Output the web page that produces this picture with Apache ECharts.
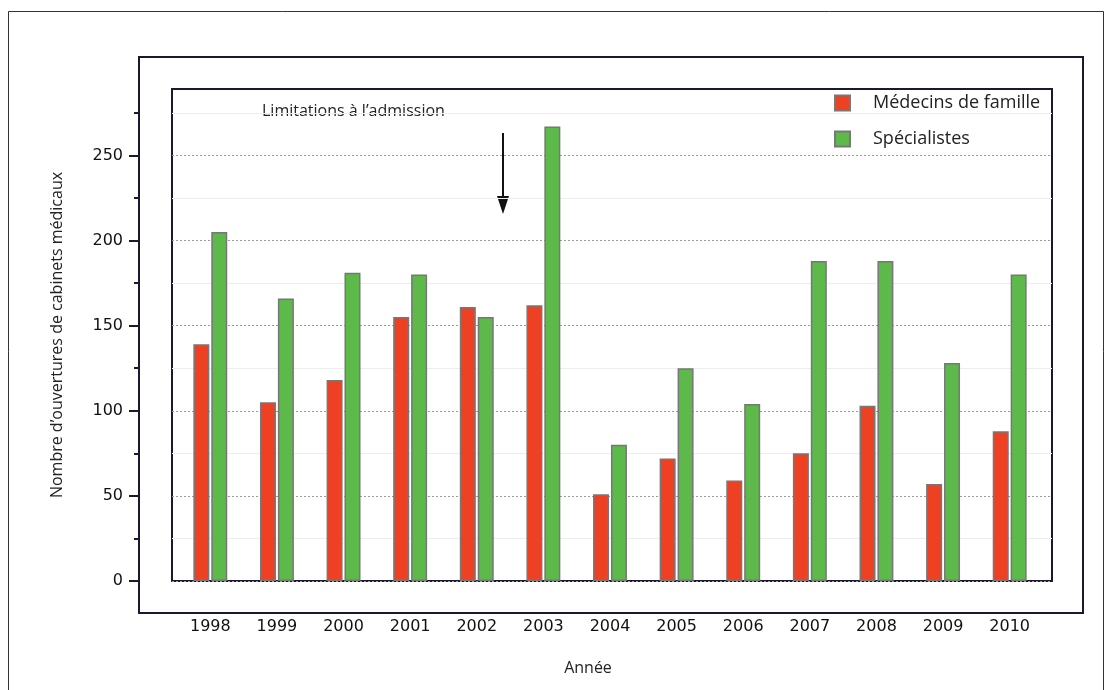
<!DOCTYPE html>
<html>
<head>
<meta charset="utf-8">
<script src="https://cdn.jsdelivr.net/npm/echarts@6/dist/echarts.min.js"></script>
<style>
  html, body { margin: 0; padding: 0; background: #fff; }
  #chart { width: 1112px; height: 690px; }
</style>
</head>
<body>
<div id="chart"></div>
<script>
const years = ['1998', '1999', '2000', '2001', '2002', '2003', '2004', '2005', '2006', '2007', '2008', '2009', '2010'];
const medecinsFamille = [139, 105, 118, 155, 161, 162, 51, 72, 59, 75, 103, 57, 88];
const specialistes = [205, 166, 181, 180, 155, 267, 80, 125, 104, 188, 188, 128, 180];
const seriesNames = ['Médecins de famille', 'Spécialistes'];
const majorTicks = [0, 50, 100, 150, 200, 250];
const minorTicks = [25, 75, 125, 175, 225, 275];
const yMax = 289;

const chart = echarts.init(document.getElementById('chart'));

const option = {
  backgroundColor: '#fff',
  animation: false,
  grid: [
    // frame + gridlines
    { left: 172, top: 89, right: 60, bottom: 109, show: true, borderColor: '#1a1a2e', borderWidth: 2, backgroundColor: 'transparent' },
    // bars
    { left: 177, top: 89, right: 69, bottom: 109 }
  ],
  legend: {
    orient: 'vertical',
    left: 834,
    top: 94,
    padding: 0,
    itemWidth: 15,
    itemHeight: 15,
    itemGap: 18,
    icon: 'rect',
    textStyle: { fontFamily: 'Open Sans', fontSize: 18, color: '#222', padding: [0, 0, 0, 18] },
    data: seriesNames
  },
  xAxis: [{
    type: 'category',
    gridIndex: 0,
    data: years,
    show: false
  }, {
    type: 'category',
    gridIndex: 1,
    data: years,
    offset: 32,
    axisLine: { show: false },
    axisTick: { show: false },
    axisLabel: { fontFamily: 'DejaVu Sans', fontSize: 16, color: '#111', margin: 6 }
  }],
  yAxis: [{
    type: 'value',
    gridIndex: 0,
    min: 0,
    max: yMax,
    offset: 33,
    z: 1,
    name: "Nombre d’ouvertures de cabinets médicaux",
    nameLocation: 'middle',
    nameGap: 74,
    nameTextStyle: { fontFamily: 'Open Sans', fontSize: 16, color: '#222' },
    axisLine: { show: true, lineStyle: { color: '#1a1a2e', width: 2 } },
    axisTick: { show: true, length: 10, customValues: majorTicks, lineStyle: { color: '#1a1a2e', width: 2 } },
    axisLabel: { fontFamily: 'DejaVu Sans', fontSize: 16, color: '#111', margin: 16, customValues: majorTicks },
    splitLine: { show: true, lineStyle: { color: '#9a9a9a', type: [2, 2], width: 1 } }
  }, {
    type: 'value',
    gridIndex: 0,
    position: 'left',
    min: 0,
    max: yMax,
    offset: 33,
    z: 0,
    axisLine: { show: false },
    axisTick: { show: true, length: 5, customValues: minorTicks, lineStyle: { color: '#1a1a2e', width: 2 } },
    axisLabel: { show: false },
    splitLine: { show: true, lineStyle: { color: '#ededed', width: 1 } }
  }, {
    type: 'value',
    gridIndex: 1,
    min: 0,
    max: yMax,
    show: false
  }],
  series: [{
    name: seriesNames[0],
    type: 'bar',
    xAxisIndex: 1,
    yAxisIndex: 2,
    data: medecinsFamille,
    barWidth: 16,
    barGap: '12%',
    itemStyle: { color: '#ee4123', borderColor: '#777', borderWidth: 1.5 }
  }, {
    name: seriesNames[1],
    type: 'bar',
    xAxisIndex: 1,
    yAxisIndex: 2,
    data: specialistes,
    barWidth: 16,
    barGap: '12%',
    itemStyle: { color: '#5db94a', borderColor: '#777', borderWidth: 1.5 }
  }],
  graphic: [
    { type: 'rect', shape: { x: 8.5, y: 11.5, width: 1095, height: 700 }, style: { fill: null, stroke: '#333', lineWidth: 1 }, z: -1 },
    { type: 'rect', shape: { x: 139, y: 57, width: 944, height: 556 }, style: { fill: null, stroke: '#1a1a2e', lineWidth: 2 } },
    { type: 'text', x: 262, y: 111, style: { text: 'Limitations à l’admission', font: '16px "Open Sans"', fill: '#222', verticalAlign: 'middle' } },
    { type: 'line', shape: { x1: 503, y1: 133, x2: 503, y2: 200 }, style: { stroke: '#111', lineWidth: 2 } },
    { type: 'polygon', shape: { points: [[497, 196], [509, 196], [503, 214]] }, style: { fill: '#111' } },
    { type: 'text', x: 588, y: 668, style: { text: 'Année', font: '16px "Open Sans"', fill: '#222', align: 'center', verticalAlign: 'middle' } }
  ]
};

chart.setOption(option);
</script>
</body>
</html>
